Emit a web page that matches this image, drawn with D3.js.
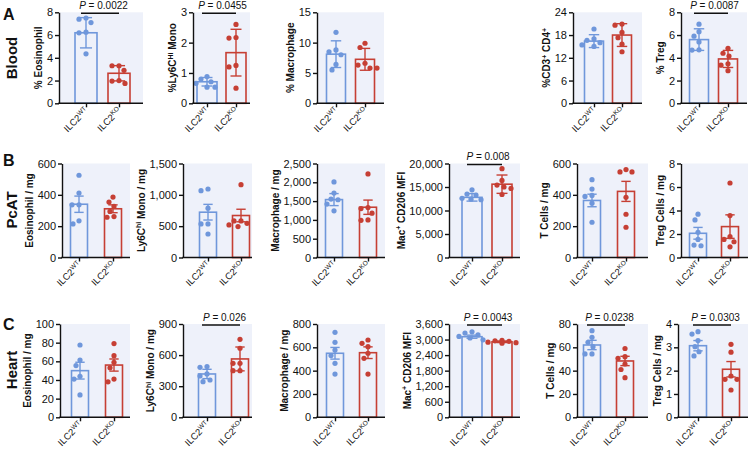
<!DOCTYPE html>
<html><head><meta charset="utf-8">
<script src="https://cdn.jsdelivr.net/npm/d3@7/dist/d3.min.js"></script>
<style>body{margin:0;background:#fff}svg{display:block;font-family:"Liberation Sans",Arial,sans-serif}</style>
</head><body><svg id="c" width="748" height="456"></svg>
<script>
// ---------- data ----------
const rowLetters = ["A", "B", "C"];
const rowNames = ["Blood", "PcAT", "Heart"];
const groupLabels = ["ILC2^{WT}", "ILC2^{KO}"];
const panelRow = [0,0,0,0,0, 1,1,1,1,1,1, 2,2,2,2,2,2];
const yTitles = [
  "% Eosinophil", "%Ly6C^{Hi} Mono", "% Macrophage", "%CD3^{+} CD4^{+}", "% Treg",
  "Eosinophil / mg", "Ly6C^{hi} Mono / mg", "Macrophage / mg", "Mac^{+} CD206 MFI", "T Cells / mg", "Treg Cells / mg",
  "Eosinophil / mg", "Ly6C^{hi} Mono / mg", "Macrophage / mg", "Mac^{+} CD206 MFI", "T Cells / mg", "Treg Cells / mg"
];
const yTicks = [
  [0,2,4,6,8], [0,1,2,3], [0,5,10,15], [0,6,12,18,24], [0,2,4,6,8],
  [0,200,400,600], [0,500,1000,1500], [0,500,1000,1500,2000,2500], [0,5000,10000,15000,20000], [0,200,400,600], [0,2,4,6,8],
  [0,20,40,60,80,100], [0,300,600,900], [0,200,400,600,800], [0,600,1200,1800,2400,3000,3600], [0,20,40,60,80], [0,1,2,3,4]
];
const wtPoints = [
  [7.5,7.4,7.1,6.25,6.2,4.35], [0.88,0.80,0.71,0.66,0.53,0.53], [11.7,8.8,8.5,8.0,6.4,5.5], [19.6,17.0,16.6,16.0,15.4,15.0], [6.96,6.3,5.9,5.4,4.7,4.68],
  [525,411,336,336,234,214], [1093,1066,787,536,536,375], [2009,1714,1554,1536,1420,1241], [14400,13500,13300,12600,12400,12300], [497,437,396,390,347,225], [3.69,3.2,2.14,1.54,1.06,1.0],
  [77.5,61.4,55.4,44,41,24], [489,482,418,399,360,344], [729,643,577,529,463,371], [3300,3250,3180,3120,3060,2990], [74.3,68.6,64.3,60.6,54.3,54.3], [3.67,3.57,3.29,3.03,2.81,2.63]
];
const koPoints = [
  [3.3,3.3,2.9,2.0,1.95,1.75], [2.6,2.17,2.15,1.25,1.2,0.5], [9.9,9.2,6.6,6.3,5.8,5.8], [20.9,20.6,18.7,17.3,15.6,13.6], [4.83,4.4,4.15,3.47,3.35,2.87],
  [386,354,326,294,261,257], [1162,584,584,546,520,493], [2223,1330,1300,1180,1000,990], [18900,16400,15400,15000,14700,13400], [561,546,546,384,276,193], [6.34,3.57,1.77,1.54,1.34,0.91],
  [79,66,59,53,41,38], [752,666,521,521,450,450], [663,634,606,549,506,371], [2970,2950,2930,2900,2880,2860], [59,52,50.6,45.7,41,34], [3.13,2.79,1.77,1.63,1.63,1.17]
];
const wtMeans = [6.2, 0.71, 8.1, 16.4, 5.6, 340, 723, 1540, 12800, 364, 2.06, 50, 418, 549, 3110, 62, 3.07];
const wtErrs  = [1.33, 0.14, 2.2, 1.7, 0.95, 52, 125, 160, 800, 40, 0.5, 9, 45, 50, 60, 4, 0.22];
const koMeans = [2.64, 1.67, 7.25, 18.0, 3.9, 311, 670, 1337, 15600, 422, 2.63, 56, 563, 554, 2914, 48.3, 2.06];
const koErrs  = [0.67, 0.77, 1.8, 3.0, 0.75, 25, 100, 190, 1950, 64, 1.0, 6.5, 115, 50, 30, 4, 0.33];
const pValues = ["0.0022", "0.0455", null, null, "0.0087", null, null, null, "0.008", null, null, null, "0.026", null, "0.0043", "0.0238", "0.0303"];

// ---------- layout ----------
// [axis x, right edge, WT centre, KO centre, bar width]
const panelLayout = [
  [59,143,86,119,22], [193,250,207,236,20], [317,384,336,365,19], [573,642,594,622,19], [681,747,699,728,19],
  [62,130,79,113,17], [183,252,208,241,17], [317,385,334,368,17], [449,520,472,502,20], [577,648,592,626,17], [681,748,698,730,17],
  [60,130,80,114,17], [183,252,207,240,17], [317,385,335,368,17], [449,520,472,502,20], [577,648,592,625,17], [678,748,698,731,17]
];
const rowTop = [12.3, 163.5, 324];
const rowBottom = [103.3, 257.5, 417.3];
const rowLetterY = [20, 166, 330];
const rowNameY = [58, 210, 370];
const colors = ["#6f97db", "#c63f34"];
const bgColor = "#eef1fa";
const dotR = 2.6;

const svg = d3.select("#c");

function richText(sel, str, supSize, shift) {
  const parts = str.split(/(\^\{[^}]*\})/).filter(s => s.length);
  let raised = false;
  parts.forEach(p => {
    if (p.startsWith("^{")) {
      sel.append("tspan").attr("dy", -shift).attr("font-size", supSize).text(p.slice(2, -1));
      raised = true;
    } else {
      const t = sel.append("tspan").text(p);
      if (raised) { t.attr("dy", shift); raised = false; }
    }
  });
}

function swarm(vals, y, cx) {
  const placed = [];
  const order = vals.map((v, i) => i).sort((a, b) => vals[b] - vals[a]);
  const out = new Array(vals.length);
  order.forEach(i => {
    const py = y(vals[i]);
    let off = 0;
    for (let k = 0; k < 40; k++) {
      const cand = k === 0 ? 0 : (k % 2 ? -1 : 1) * Math.ceil(k / 2) * 1.0;
      const ok = placed.every(p => Math.hypot(p[0] - (cx + cand), p[1] - py) >= 2 * dotR + 1.2);
      if (ok) { off = cand; break; }
    }
    placed.push([cx + off, py]);
    out[i] = [cx + off, py];
  });
  return out;
}

yTitles.forEach((title, i) => {
  const [ax, rx, c1, c2, bw] = panelLayout[i];
  const row = panelRow[i];
  const ticks = yTicks[i];
  const y = d3.scaleLinear().domain([0, ticks[ticks.length - 1]]).range([rowBottom[row], rowTop[row]]);
  const x = d3.scalePoint().domain(groupLabels).range([c1, c2]);
  const g = svg.append("g");

  g.append("rect").attr("x", ax).attr("y", rowTop[row]).attr("width", rx - ax)
    .attr("height", rowBottom[row] - rowTop[row]).attr("fill", bgColor);

  const means = [wtMeans[i], koMeans[i]];
  const errs = [wtErrs[i], koErrs[i]];
  const pts = [wtPoints[i], koPoints[i]];

  groupLabels.forEach((lab, j) => {
    const cx = x(lab);
    const col = colors[j];
    g.append("rect").attr("x", cx - bw / 2).attr("y", y(means[j]))
      .attr("width", bw).attr("height", y(0) - y(means[j]))
      .attr("fill", "none").attr("stroke", col).attr("stroke-width", 1.6);
    const cap = bw * 0.55;
    const e = g.append("g").attr("stroke", col).attr("stroke-width", 1.4);
    e.append("line").attr("x1", cx).attr("x2", cx).attr("y1", y(means[j] + errs[j])).attr("y2", y(means[j] - errs[j]));
    [means[j] + errs[j], means[j] - errs[j]].forEach(v => {
      e.append("line").attr("x1", cx - cap / 2).attr("x2", cx + cap / 2).attr("y1", y(v)).attr("y2", y(v));
    });
    const pos = swarm(pts[j], y, cx);
    g.selectAll(null).data(pos).enter().append("circle")
      .attr("cx", d => d[0]).attr("cy", d => d[1]).attr("r", dotR).attr("fill", col);
  });

  // y axis
  const ya = g.append("g").attr("transform", `translate(${ax},0)`)
    .call(d3.axisLeft(y).tickValues(ticks).tickFormat(d3.format(",")).tickSize(4).tickSizeOuter(0).tickPadding(2));
  ya.selectAll("text").attr("font-size", 11).attr("fill", "#111").attr("font-family", "Liberation Sans, Arial, sans-serif");
  ya.selectAll("line,path").attr("stroke", "#111").attr("stroke-width", 1.4);

  // x axis
  const xa = g.append("g").attr("transform", `translate(0,${rowBottom[row]})`)
    .call(d3.axisBottom(x).tickSize(4).tickFormat(""));
  xa.select(".domain").remove();
  xa.selectAll("line").attr("stroke", "#111").attr("stroke-width", 1.4);
  xa.append("line").attr("x1", ax - 0.7).attr("x2", rx).attr("y1", 0).attr("y2", 0).attr("stroke", "#111").attr("stroke-width", 1.4);
  groupLabels.forEach(lab => {
    const t = g.append("text").attr("text-anchor", "end").attr("font-size", 9.5).attr("fill", "#111")
      .attr("transform", `translate(${x(lab) + 3},${rowBottom[row] + 8}) rotate(-45)`);
    richText(t, lab, 6.5, 3.5);
  });

  // y title
  const bb = ya.node().getBBox();
  const tx = ax + bb.x - 8;
  const ty = (rowTop[row] + rowBottom[row]) / 2;
  const tt = g.append("text").attr("text-anchor", "middle").attr("font-size", 10).attr("font-weight", "bold")
    .attr("fill", "#111").attr("transform", `translate(${tx},${ty}) rotate(-90)`).attr("dy", "0.35em");
  richText(tt, title, 7, 3.5);

  // p value
  if (pValues[i]) {
    const ly = rowTop[row] + 1;
    g.append("line").attr("x1", c1 - 5).attr("x2", c2).attr("y1", ly).attr("y2", ly)
      .attr("stroke", "#111").attr("stroke-width", 1.4);
    const pt = g.append("text").attr("x", (c1 + c2) / 2 + 1).attr("y", rowTop[row] - 3.5)
      .attr("text-anchor", "middle").attr("font-size", 10).attr("fill", "#111");
    pt.append("tspan").attr("font-style", "italic").text("P");
    pt.append("tspan").text(" = " + pValues[i]);
  }
});

rowLetters.forEach((L, r) => {
  svg.append("text").attr("x", 3).attr("y", rowLetterY[r]).attr("font-size", 16).attr("font-weight", "bold")
    .attr("fill", "#111").text(L);
  svg.append("text").attr("text-anchor", "middle").attr("font-size", 15).attr("font-weight", "bold")
    .attr("fill", "#111").attr("dy", "0.35em")
    .attr("transform", `translate(12,${rowNameY[r]}) rotate(-90)`).text(rowNames[r]);
});
</script></body></html>
